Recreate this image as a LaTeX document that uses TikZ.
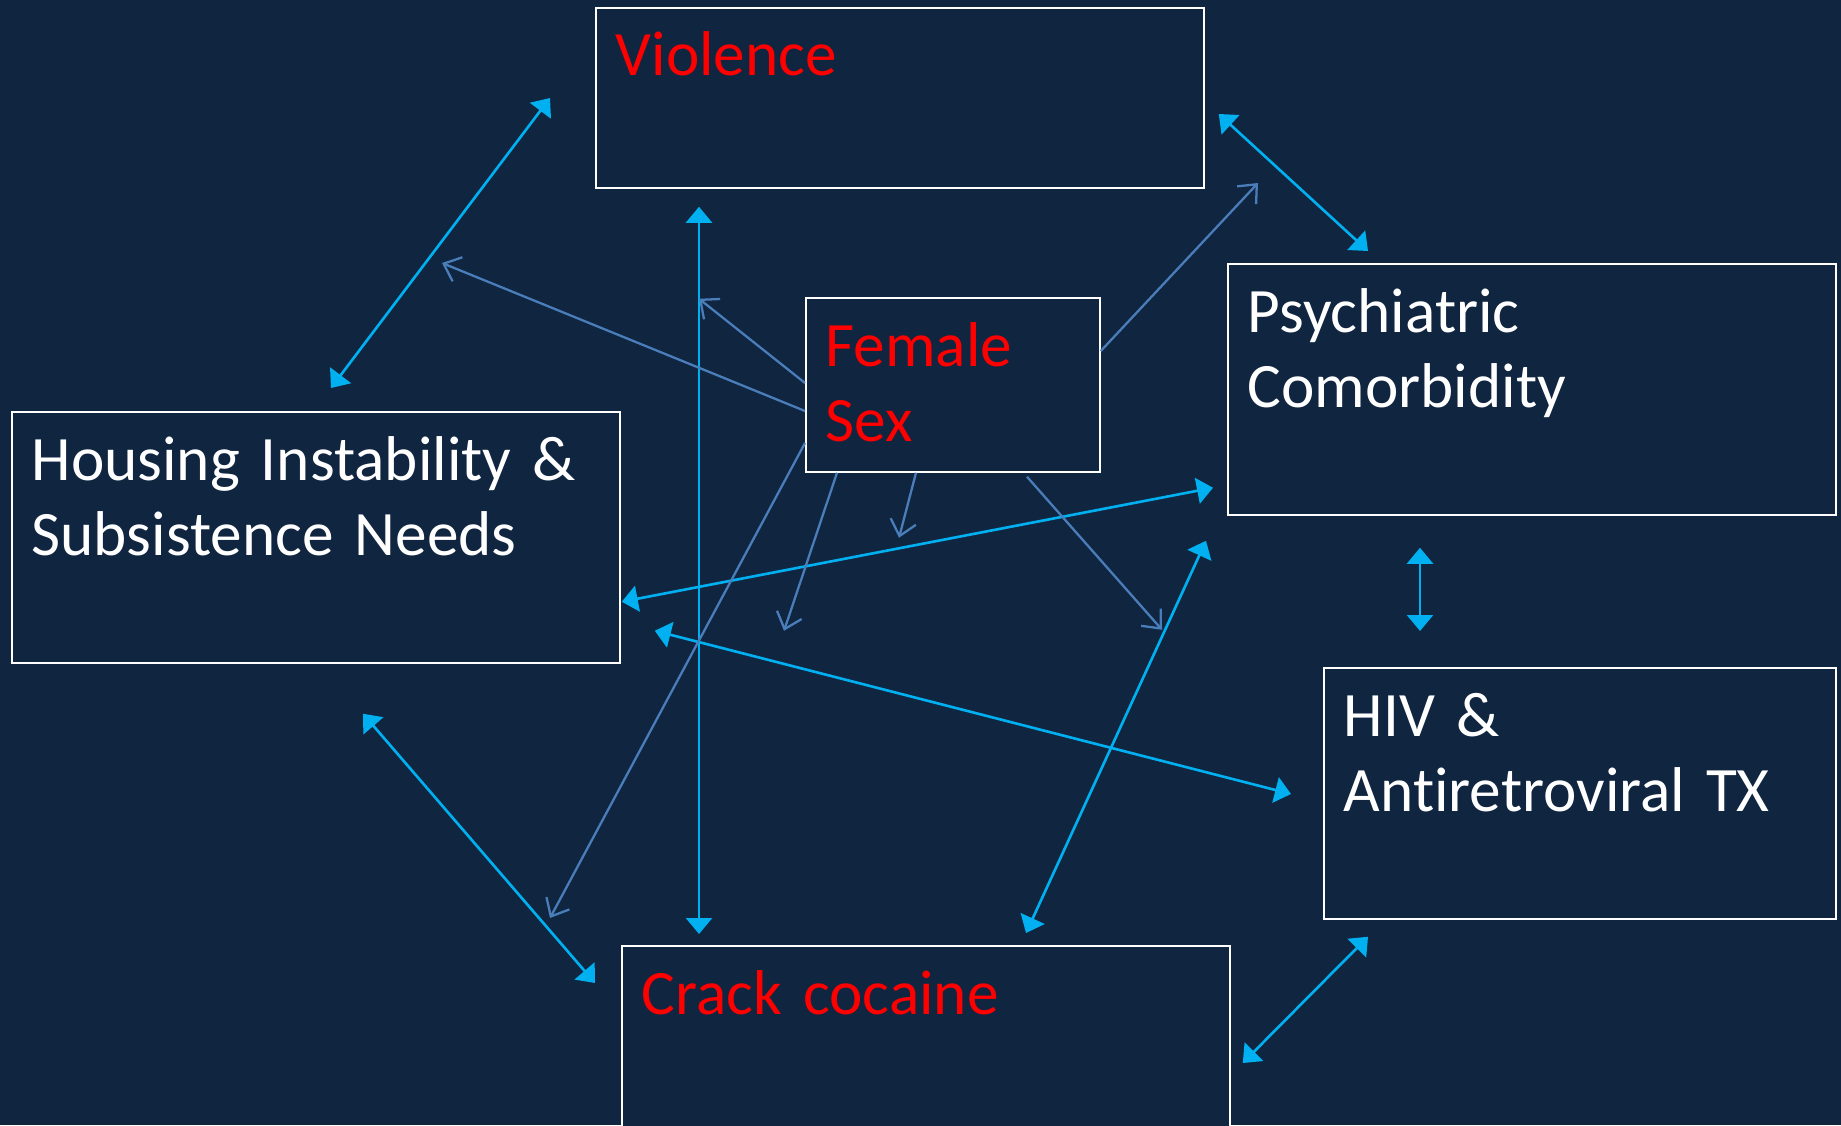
\documentclass[tikz,border=0pt]{standalone}
\usepackage{fontspec}
\setmainfont[Ligatures=NoCommon]{Carlito}
\usepackage{tikz}
\usetikzlibrary{arrows.meta}
\usepackage{xcolor}
\definecolor{nightnavy}{RGB}{16,37,64}
\definecolor{brightcyan}{RGB}{0,176,240}
\definecolor{steelblue}{RGB}{74,126,187}
\definecolor{alertred}{RGB}{255,0,0}

\begin{document}
\begin{tikzpicture}[x=0.1mm,y=-0.1mm,
        factor/.style={draw=white,line width=0.5pt,fill=nightnavy,
              anchor=north west,inner sep=0pt,
              minimum width=60.8mm,minimum height=25.1mm},
        factortext/.style={anchor=base west,inner sep=0pt,
              xshift=2mm,yshift=-6.9mm,text width=56mm,
              text=white,font=\fontsize{18pt}{21.6pt}\selectfont},
        keytext/.style={factortext,text=alertred},
        link/.style={draw=brightcyan,line width=0.75pt,
              {Triangle[length=1.6mm,width=2.6mm]}-{Triangle[length=1.6mm,width=2.6mm]}},
        effect/.style={draw=steelblue,line width=0.65pt,
              -{Straight Barb[length=1.5mm,width=2.6mm]}}]
        \fill[nightnavy] (0,0) rectangle (1841,1125);
        \useasboundingbox (0,0) rectangle (1841,1125);

        % the six factors
        \node[factor,minimum height=18mm,
              label={[keytext]north west:Violence}] (violence) at (595,7) {};
        \node[factor,minimum width=29.4mm,minimum height=17.4mm,
              label={[keytext,text width=26mm]north west:Female\\Sex}] (female) at (805,297) {};
        \node[factor,
              label={[factortext]north west:Psychiatric\\Comorbidity}] (psych) at (1227,263) {};
        \node[factor,
              label={[factortext]north west:Housing Instability \&\\Subsistence Needs}] (housing) at (11,411) {};
        \node[factor,minimum width=51.2mm,
              label={[factortext,text width=48mm]north west:HIV \&\\Antiretroviral TX}] (hiv) at (1323,667) {};
        \node[factor,
              label={[keytext]north west:Crack cocaine}] (crack) at (621,945) {};

        % two-way links
        \draw[link] ([shift={(-45,91)}]violence.north west) -- ([shift={(320,-23)}]housing.north west);
        \draw[link] ([shift={(14,107)}]violence.north east) -- ([shift={(141,-12)}]psych.north west);
        \draw[link] ([shift={(104,18)}]violence.south west) -- ([shift={(78,-11)}]crack.north west);
        \draw[link] ([shift={(-14,-28)}]psych.south west) -- ([shift={(1,-62)}]housing.south east);
        \draw[link] ([shift={(34,-33)}]housing.south east) -- ([shift={(-32,127)}]hiv.north west);
        \draw[link] ([shift={(193,32)}]psych.south west) -- ([shift={(97,-36)}]hiv.north west);
        \draw[link] ([shift={(-21,25)}]psych.south west) -- ([shift={(405,-12)}]crack.north west);
        \draw[link] ([shift={(352,50)}]housing.south west) -- ([shift={(-26,38)}]crack.north west);
        \draw[link] ([shift={(45,17)}]hiv.south west) -- ([shift={(12,118)}]crack.north east);

        % effects of female sex
        \draw[effect] ([shift={(0,86)}]female.north west) -- ([shift={(104,110)}]violence.south west);
        \draw[effect] ([shift={(0,114)}]female.north west) -- ([shift={(431,-148)}]housing.north west);
        \draw[effect] ([shift={(0,146)}]female.north west) -- ([shift={(-71,-27)}]crack.north west);
        \draw[effect] ([shift={(32,0)}]female.south west) -- ([shift={(-21,158)}]female.south west);
        \draw[effect] ([shift={(111,0)}]female.south west) -- ([shift={(94,65)}]female.south west);
        \draw[effect] ([shift={(222,4)}]female.south west) -- ([shift={(357,157)}]female.south west);
        \draw[effect] ([shift={(0,54)}]female.north east) -- ([shift={(31,-80)}]psych.north west);
\end{tikzpicture}
\end{document}
